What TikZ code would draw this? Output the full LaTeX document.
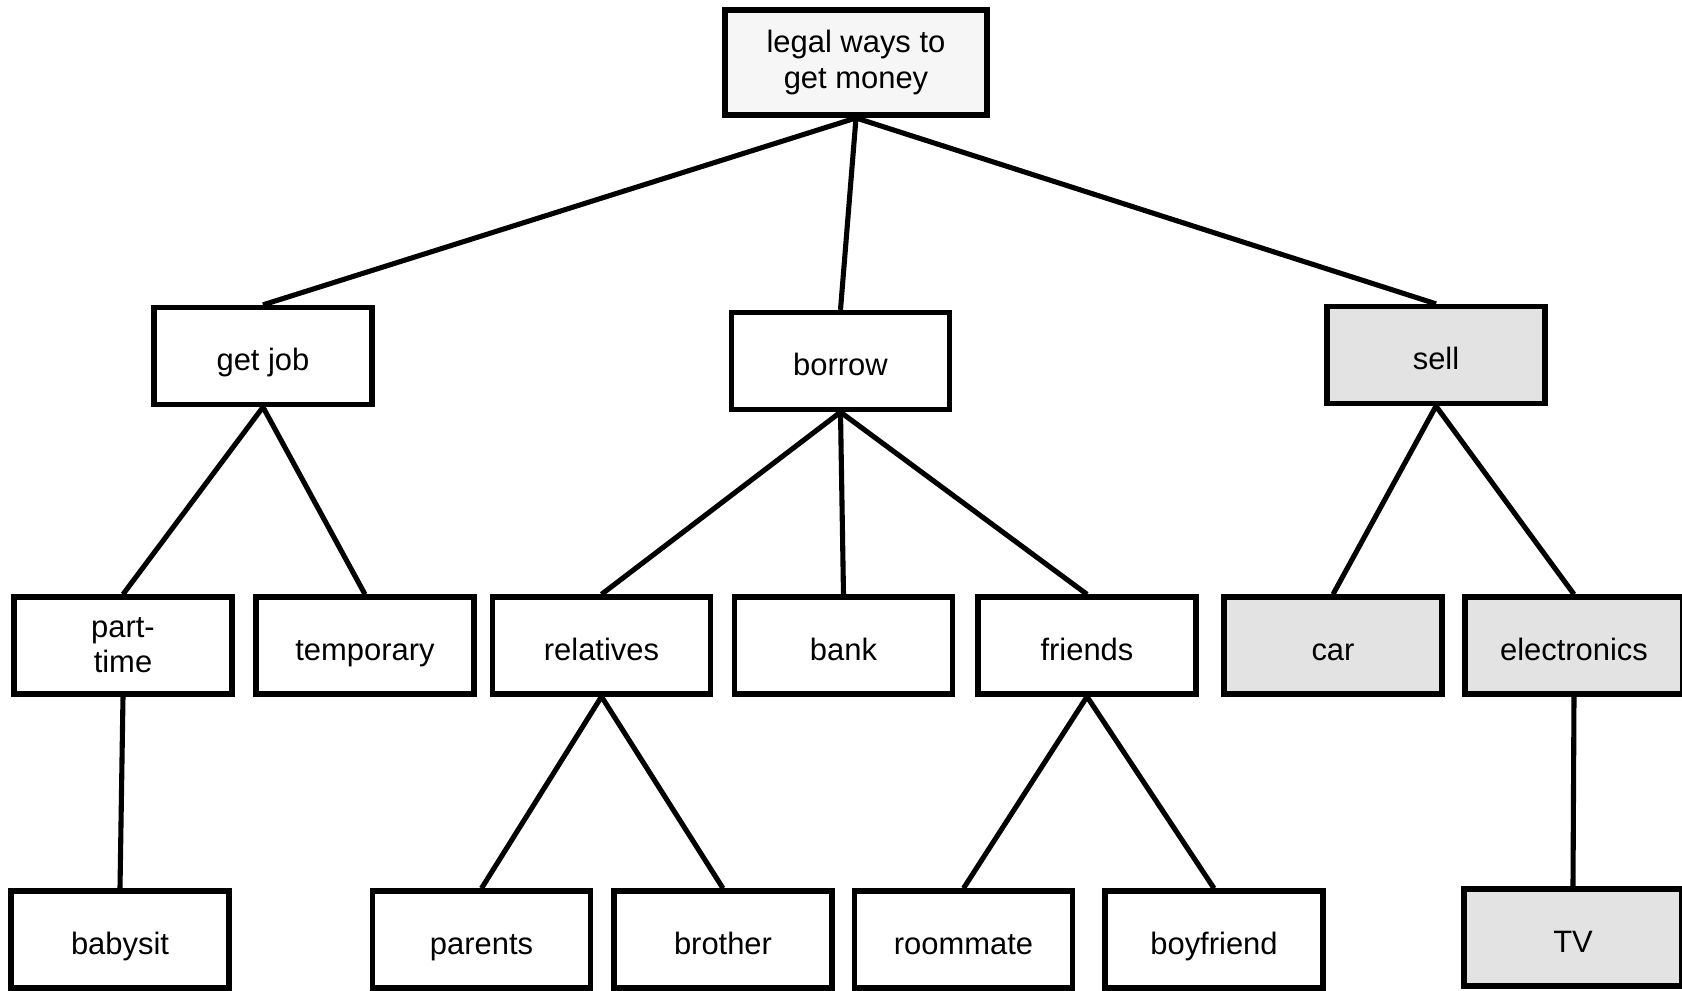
\documentclass[tikz,border=0pt]{standalone}
\usepackage{fontspec}
\setmainfont{Liberation Sans}
\usepackage{tikz}

\begin{document}
\begin{tikzpicture}[
  cell/.style={draw, line width=1.5pt, minimum width=2.18cm, minimum height=0.97cm, inner sep=0pt, align=center, font=\fontsize{8.8}{10}\selectfont},
  box/.style={cell, text height=0.9em, text depth=0.07em},
  topbox/.style={cell, fill=gray!7, minimum width=2.62cm, minimum height=1.05cm, line width=1.7pt},
  greybox/.style={box, fill=gray!22},
  every edge/.style={draw, line width=1.45pt}]
 \useasboundingbox (0,0) rectangle (16.82,9.91);
  \draw (8.56,9.285) node[topbox] (root) {legal ways to\\get money};
    \draw (2.63,6.35) node[box] (getjob) {get job};
    \draw (8.405,6.30) node[box] (borrow) {borrow};
    \draw (14.36,6.36) node[greybox] (sell) {sell};
         \draw (1.23,3.455) node[cell] (parttime) {part-\\time};
         \draw (3.65,3.455) node[box] (temporary) {temporary};
         \draw (6.015,3.455) node[box] (relatives) {relatives};
         \draw (8.435,3.455) node[box] (bank) {bank};
         \draw (10.87,3.455) node[box] (friends) {friends};
         \draw (13.33,3.455) node[greybox] (car) {car};
         \draw (15.74,3.455) node[greybox] (electronics) {electronics};
     \draw (1.20,0.515) node[box] (babysit) {babysit};
     \draw (4.815,0.515) node[box] (parents) {parents};
     \draw (7.23,0.515) node[box] (brother) {brother};
     \draw (9.635,0.515) node[box] (roommate) {roommate};
     \draw (12.14,0.515) node[box] (boyfriend) {boyfriend};
     \draw (15.73,0.535) node[greybox] (TV) {TV};


     \path[-] (root.south) edge (getjob.north);
     \path[-] (root.south) edge (borrow.north);
     \path[-] (root.south) edge (sell.north);
     \path[-] (getjob.south) edge (parttime.north);
     \path[-] (getjob.south) edge (temporary.north);
     \path[-] (borrow.south) edge (relatives.north);
     \path[-] (borrow.south) edge (bank.north);
     \path[-] (borrow.south) edge (friends.north);
     \path[-] (sell.south) edge (car.north);
     \path[-] (sell.south) edge (electronics.north);
     \path[-] (parttime.south) edge (babysit.north);
     \path[-] (relatives.south) edge (parents.north);
     \path[-] (relatives.south) edge (brother.north);
     \path[-] (friends.south) edge (roommate.north);
     \path[-] (friends.south) edge (boyfriend.north);
     \path[-] (electronics.south) edge (TV.north);


\end{tikzpicture}
\end{document}
